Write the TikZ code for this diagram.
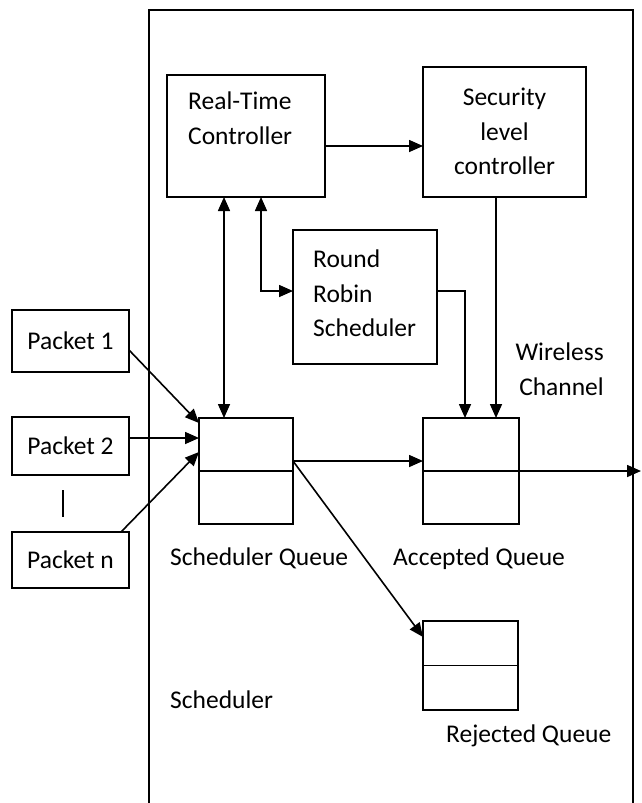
\documentclass[tikz,border=0pt]{standalone}
\usepackage{fontspec}
\setmainfont{Carlito}
\usetikzlibrary{arrows.meta,calc}

\tikzset{
  box/.style={draw, line width=1.8pt, rectangle, inner sep=0pt, outer sep=0pt},
  lbl/.style={inner sep=0pt, align=left},
  arr/.style={line width=1.6pt, -{Triangle[length=14pt,width=12pt]}},
  biarr/.style={line width=1.6pt, {Triangle[length=14pt,width=12pt]}-{Triangle[length=14pt,width=12pt]}},
}

\begin{document}
\begin{tikzpicture}[x=1pt,y=-1pt,font=\fontsize{25.5}{34.5}\selectfont]
    \useasboundingbox (0,0) rectangle (641,803);
    % scheduler frame, open at the bottom
    \draw [line width=1.8pt] (149,810) -- (149,10) -- (633,10) -- (633,810);

    \node [box, minimum width=158pt, minimum height=122pt] (rtc) at (246,136) {};
    \node [box, minimum width=163pt, minimum height=130pt] (slc) at (504.5,132) {};
    \node [box, minimum width=144pt, minimum height=134pt] (rrs) at (365,297) {};

    \node [box, minimum width=94pt, minimum height=106pt] (sq) at (246,471) {};
    \node [box, minimum width=96pt, minimum height=106pt] (aq) at (471,471) {};
    \node [box, minimum width=95pt, minimum height=89pt] (rq) at (470.5,665.5) {};
    \draw [line width=1.8pt] (sq.west) -- (sq.east);
    \draw [line width=1.8pt] (aq.west) -- (aq.east);
    \draw [line width=1.8pt] (rq.west) -- (rq.east);

    \node [box, minimum width=117pt, minimum height=62pt] (p1) at (70.5,341) {Packet 1};
    \node [box, minimum width=117pt, minimum height=58pt] (p2) at (70.5,446) {Packet 2};
    \node [box, minimum width=117pt, minimum height=56pt] (pn) at (70.5,560) {Packet n};
    \draw [line width=1.8pt] (63,490) -- (63,517);

    \node [lbl, anchor=north west] (rtctxt) at (188,92) {Real-Time\\Controller};
    \node [lbl, align=center, anchor=north] (slctxt) at (504.5,88) {Security\\level\\controller};
    \node [lbl, anchor=north west] (rrstxt) at (313,250) {Round\\Robin\\Scheduler};
    \node [lbl, align=right, anchor=north east] (wctxt) at (604,343) {Wireless\\Channel};
    \node [lbl, anchor=base west] (sqtxt) at (170,565) {Scheduler Queue};
    \node [lbl, anchor=base west] (aqtxt) at (393,565) {Accepted Queue};
    \node [lbl, anchor=base west] (rqtxt) at (446,742) {Rejected Queue};
    \node [lbl, anchor=base west] (schtxt) at (170,708) {Scheduler};

    \coordinate (out) at (641,471);

    \draw [arr] ([yshift=-10pt]rtc.east) -- ([yshift=-10pt]rtc.east -| slc.west);
    \draw [biarr] ([xshift=57pt]rtc.south west) -- ([xshift=57pt]rtc.south west |- sq.north);
    \draw [biarr] ([xshift=94pt]rtc.south west) |- ([yshift=6pt]rrs.west);
    \draw [arr] ([yshift=6pt]rrs.east) -| ([xshift=42pt]aq.north west);
    \draw [arr] ([xshift=73pt]aq.north west |- slc.south) -- ([xshift=73pt]aq.north west);

    \draw [arr] ([yshift=10pt]sq.east) -- ([yshift=10pt]sq.east -| aq.west);
    \draw [arr] ([yshift=10pt]sq.east) -- ([yshift=-16pt]rq.north west);
    \draw [arr] (aq.east) -- (out);

    \draw [arr] ([yshift=-9pt]p1.east) -- ([yshift=-5pt]sq.north west);
    \draw [arr] ([yshift=8pt]p2.east) -- ([yshift=8pt]p2.east -| sq.west);
    \draw [arr] ([xshift=-8pt]pn.north east) -- ([yshift=-34pt]sq.north west);
\end{tikzpicture}
\end{document}
